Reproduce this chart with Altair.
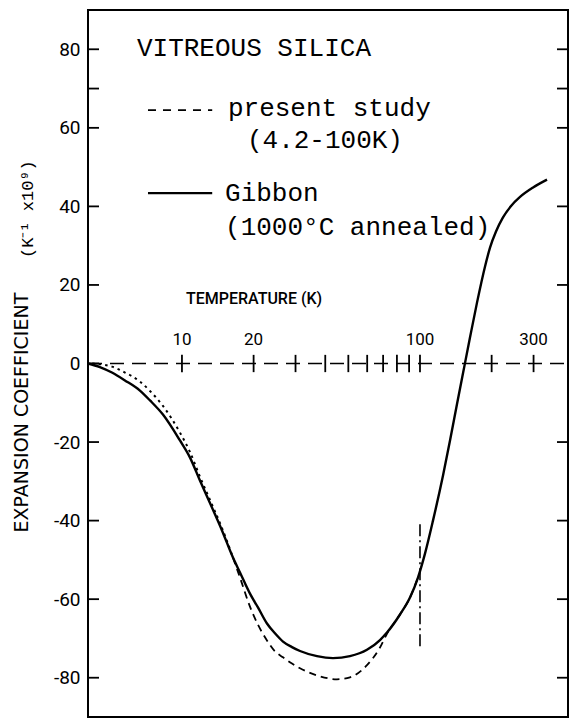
import altair as alt
import pandas as pd

# Gibbon (1000 C annealed): temperature (K) and expansion coefficient
gibbon_T = [4.03, 4.52, 5.08, 5.76, 6.66, 7.34, 8.32, 9.81, 10.8, 11.9, 13.24, 14.73,
            16.38, 17.53, 19.31, 20.86, 22.76, 24.6, 26.58, 28.99, 31.33, 36.92, 43.11,
            50.8, 59.88, 67.91, 72.65, 82.41, 90.78, 98.08, 104.95, 113.4, 124.95,
            133.7, 143.0, 151.6, 162.2, 173.6, 187.6, 196.9, 208.6, 223.2, 241.3,
            263.2, 298.5, 341.7]
gibbon_V = [0, -0.9, -2.3, -4.3, -6.9, -9.4, -13.0, -19.6, -23.9, -29.8, -36.1, -42.5,
            -49.4, -53.2, -58.6, -62.1, -66.2, -68.7, -70.8, -72.2, -73.2, -74.5, -75.0,
            -74.5, -72.9, -70.4, -68.5, -63.9, -59.6, -54.5, -48.4, -40.0, -28.5,
            -19.6, -10.4, -2.5, 6.6, 15.5, 24.7, 29.5, 33.6, 37.2, 40.1, 42.4, 44.8,
            46.8]

# present study (4.2-100 K): finely dotted at low temperature, dashed above
study_low_T = [4.2, 5.08, 5.76, 6.66, 7.34, 8.32, 9.81, 10.8, 11.9, 13.24, 14.73, 16.38]
study_low_V = [0, -0.8, -2.3, -4.6, -7.0, -10.8, -17.6, -22.5, -28.8, -35.3, -41.9, -49.4]
study_high_T = [16.38, 17.53, 19.31, 20.86, 22.76, 24.6, 26.58, 28.99, 31.33, 36.92,
                44.8, 50.8, 59.88, 67.91, 72.65, 82.41, 90.78, 98.08]
study_high_V = [-49.4, -54.5, -61.9, -66.5, -70.5, -73.3, -74.8, -76.4, -77.6, -79.4,
                -80.4, -79.9, -76.8, -72.3, -68.8, -63.9, -59.6, -54.5]

# temperature scale drawn along the zero line
temp_ticks = [10, 20, 30, 40, 50, 60, 70, 80, 90, 100, 200, 300]
temp_labels = [10, 20, 100, 300]

# y tick marks on the frame
left_ticks = [80, 70, 60, 40, 20, 0, -20, -40, -60, -80]
right_ticks = [80, 70, 60, 40, 20, -20, -40, -60, -80]
y_label_values = [80, 60, 40, 20, 0, -20, -40, -60, -80]

# dash-dot marker at 100 K
marker_T = [100]
marker_lo = [-72]
marker_hi = [-40]

W, H = 480, 707
MONO = "Liberation Mono"
SANS = "Roboto"

xscale = alt.Scale(type="log", domain=[4.03, 418.6], nice=False, zero=False)
yscale = alt.Scale(domain=[-90, 90], nice=False, zero=False)

y_axis = alt.Axis(
    values=y_label_values,
    ticks=False,
    grid=False,
    domain=False,
    labelFont=SANS,
    labelFontSize=19,
    labelColor="black",
    labelPadding=8,
    labelExpr="datum.value < 0 ? '-' + abs(datum.value) : '' + datum.value",
    title="",
)


def X(field):
    return alt.X(field, type="quantitative", scale=xscale, axis=None)


def Y(field):
    return alt.Y(field, type="quantitative", scale=yscale, axis=y_axis)


def curve(T, V, width, dash=None):
    mark = dict(color="black", strokeWidth=width, interpolate="monotone")
    if dash:
        mark["strokeDash"] = dash
    return alt.Chart(pd.DataFrame({"T": T, "V": V})).mark_line(**mark).encode(
        x=X("T"), y=Y("V")
    )


solid = curve(gibbon_T, gibbon_V, 2.4)
dotted = curve(study_low_T, study_low_V, 2.0, [2.5, 4])
dashed = curve(study_high_T, study_high_V, 1.8, [7, 5])

zero_line = alt.Chart(pd.DataFrame({"v": [0]})).mark_rule(
    color="black", strokeWidth=1.6, strokeDash=[14, 8]
).encode(y=Y("v"), x=alt.value(0), x2=alt.value(W))

temp_tick_marks = alt.Chart(
    pd.DataFrame({"T": temp_ticks, "lo": [-2.2] * len(temp_ticks), "hi": [2.2] * len(temp_ticks)})
).mark_rule(color="black", strokeWidth=1.8).encode(x=X("T"), y=Y("lo"), y2="hi:Q")

temp_tick_text = alt.Chart(
    pd.DataFrame({"T": temp_labels, "lab": [str(t) for t in temp_labels], "y": [6.0] * len(temp_labels)})
).mark_text(
    font=SANS, fontSize=17, color="black", baseline="middle", align="center"
).encode(x=X("T"), y=Y("y"), text="lab:N")

marker = alt.Chart(pd.DataFrame({"T": marker_T, "lo": marker_lo, "hi": marker_hi})).mark_rule(
    color="black", strokeWidth=1.6, strokeDash=[12, 4, 2, 4]
).encode(x=X("T"), y=Y("lo"), y2="hi:Q")

left_tick_marks = alt.Chart(pd.DataFrame({"v": left_ticks})).mark_rule(
    color="black", strokeWidth=1.8
).encode(y=Y("v"), x=alt.value(0), x2=alt.value(11))

right_tick_marks = alt.Chart(pd.DataFrame({"v": right_ticks})).mark_rule(
    color="black", strokeWidth=1.8
).encode(y=Y("v"), x=alt.value(W - 11), x2=alt.value(W))


def label(text, t, v, font=MONO, size=26, align="left", angle=0, weight="normal"):
    # annotation anchored at temperature t (K) and coefficient v
    return alt.Chart(pd.DataFrame({"t": [t], "v": [v], "s": [text]})).mark_text(
        font=font, fontSize=size, color="black", align=align, baseline="middle",
        angle=angle, fontWeight=weight
    ).encode(x=X("t"), y=Y("v"), text="s:N")


def key_line(t0, t1, v, width, dash=None):
    mark = dict(color="black", strokeWidth=width)
    if dash:
        mark["strokeDash"] = dash
    return alt.Chart(pd.DataFrame({"t0": [t0], "t1": [t1], "v": [v]})).mark_rule(**mark).encode(
        x=X("t0"), x2="t1:Q", y=Y("v")
    )


legend_dash = key_line(7.2, 13.4, 64.5, 1.8, [8, 7])
legend_solid = key_line(7.2, 13.4, 43.4, 2.2)

texts = [
    label("VITREOUS SILICA", 6.47, 80.3),
    label("present study", 15.6, 65.0),
    label("(4.2-100K)", 18.75, 56.9),
    label("Gibbon", 15.17, 43.4),
    label("(1000\u00b0C annealed)", 15.17, 34.75),
    label("TEMPERATURE (K)", 10.39, 16.4, font=SANS, size=16, weight=500),
    # y-axis title, set outside the frame on the left
    label("EXPANSION COEFFICIENT", 2.13, -12.5, font="DejaVu Sans", size=19, align="center", angle=270),
    label("(K\u207b\u00b9 x10\u2079)", 2.25, 39.3, font=MONO, size=17, align="center", angle=270),
]

chart = alt.layer(
    solid,
    dotted,
    dashed,
    zero_line,
    temp_tick_marks,
    temp_tick_text,
    marker,
    left_tick_marks,
    right_tick_marks,
    legend_dash,
    legend_solid,
    *texts,
).properties(
    width=W,
    height=H,
    background="white",
    autosize=alt.AutoSizeParams(type="none"),
    padding={"left": 88, "top": 10, "right": 5, "bottom": 10},
).configure_view(stroke="black", strokeWidth=2)

chart.save("out.html", embed_options={"renderer": "svg", "actions": False})
